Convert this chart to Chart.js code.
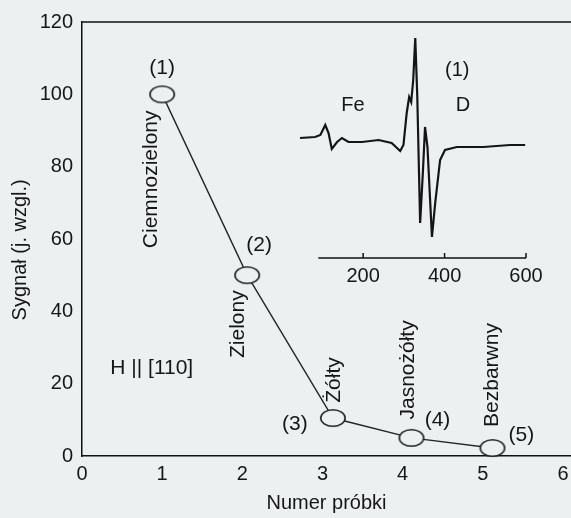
<!DOCTYPE html>
<html lang="pl">
<head>
<meta charset="UTF-8">
<title>Sygnał a numer próbki</title>
<style>
  body { margin: 0; background: #edf0f1; }
  #wrap { position: relative; width: 571px; height: 518px; }
  #mainChart { position: absolute; left: 0; top: 0; }
  #insetChart { position: absolute; left: 280px; top: 30px; }
</style>
<script src="https://cdn.jsdelivr.net/npm/chart.js"></script>
</head>
<body>
<div id="wrap">
  <canvas id="mainChart" width="571" height="518"></canvas>
  <canvas id="insetChart" width="276" height="260"></canvas>
</div>
<script>
// main plot: signal vs sample number
const sampleNumbers = [1.0, 2.06, 3.13, 4.11, 5.12];
const signalValues = [100, 50, 10.5, 5, 2.2];
const sampleLabels = ['(1)', '(2)', '(3)', '(4)', '(5)'];
const colourNames = ['Ciemnozielony', 'Zielony', 'Żółty', 'Jasnożółty', 'Bezbarwny'];
const xTicks = [0, 1, 2, 3, 4, 5, 6];
const yTicks = [0, 20, 40, 60, 80, 100, 120];

// inset: spectrum of sample (1)
const fieldValues = [45, 82, 95, 107, 115, 123, 136, 148, 164, 197, 238, 270, 291, 299,
                     307, 313, 318, 323, 328, 333, 340, 347, 352, 358, 369, 377, 389, 401,
                     430, 495, 561, 598];
const spectrumValues = [2, 3, 5, 15, 7, -9, -2, 2, -2, -2, 0, -3, -11, -5,
                        27, 43, 38, 60, 102, 43, -83, -30, 13, -7, -97, -63, -20, -10,
                        -7, -7, -5, -5];
const insetTicks = [200, 400, 600];
const insetAxisStart = 90;

// label placement relative to each point (px)
const numberOffsets = [[0, -26], [12, -30], [-38, 6], [26, -18], [29, -13]];
const nameOffsets = [[-11, 85], [-9, 49], [1, -38], [-3, -68], [0, -73]];

const ink = '#161616';
const paper = '#edf0f1';
const fontFamily = '"Liberation Sans", Arial, sans-serif';
Chart.defaults.font.family = fontFamily;
Chart.defaults.color = ink;

function ellipseMarker() {
    const c = document.createElement('canvas');
    c.width = 28;
    c.height = 20;
    const g = c.getContext('2d');
    g.beginPath();
    g.ellipse(14, 10, 12.2, 8.3, 0, 0, Math.PI * 2);
    g.fillStyle = paper;
    g.fill();
    g.lineWidth = 1.6;
    g.strokeStyle = '#222';
    g.stroke();
    return c;
}

const mainLabels = {
    id: 'mainLabels',
    afterDatasetsDraw(chart) {
        const ctx = chart.ctx;
        const area = chart.chartArea;
        const meta = chart.getDatasetMeta(0);
        ctx.save();
        ctx.font = '21px ' + fontFamily;
        ctx.fillStyle = ink;
        ctx.textAlign = 'center';
        ctx.textBaseline = 'middle';
        meta.data.forEach((pt, i) => {
            ctx.fillText(sampleLabels[i], pt.x + numberOffsets[i][0], pt.y + numberOffsets[i][1]);
            ctx.save();
            ctx.translate(pt.x + nameOffsets[i][0], pt.y + nameOffsets[i][1]);
            ctx.rotate(-Math.PI / 2);
            ctx.fillText(colourNames[i], 0, 0);
            ctx.restore();
        });
        ctx.fillText('H || [110]', chart.scales.x.getPixelForValue(0.87), chart.scales.y.getPixelForValue(24.3));

        // y axis title, sits a little below the axis centre in the original
        ctx.save();
        ctx.font = '20px ' + fontFamily;
        ctx.translate(20, chart.scales.y.getPixelForValue(57));
        ctx.rotate(-Math.PI / 2);
        ctx.fillText('Sygnał (j. wzgl.)', 0, 0);
        ctx.restore();

        // top frame line
        ctx.strokeStyle = '#111';
        ctx.lineWidth = 1.5;
        ctx.beginPath();
        ctx.moveTo(area.left, area.top);
        ctx.lineTo(area.right, area.top);
        ctx.stroke();
        ctx.restore();
    }
};

new Chart(document.getElementById('mainChart'), {
    type: 'scatter',
    data: {
        datasets: [{
            data: sampleNumbers.map((x, i) => ({ x: x, y: signalValues[i] })),
            showLine: true,
            borderColor: '#262626',
            borderWidth: 1.4,
            pointStyle: ellipseMarker(),
            pointRadius: 10,
            clip: false
        }]
    },
    options: {
        responsive: false,
        animation: false,
        events: [],
        plugins: { legend: { display: false }, tooltip: { enabled: false } },
        layout: { autoPadding: false, padding: { top: 22, right: 0, bottom: 0, left: 0 } },
        scales: {
            x: {
                type: 'linear',
                min: 0,
                max: 6.1,
                afterBuildTicks: s => { s.ticks = xTicks.map(v => ({ value: v })); },
                afterFit: s => {
                    s.height = 62;
                    s.paddingLeft = 0;
                    s.paddingRight = 0;
                },
                grid: { display: false, drawTicks: false },
                border: { color: '#111', width: 1.5 },
                ticks: { padding: 2, font: { size: 20, lineHeight: 1.6 } },
                title: { display: true, text: 'Numer próbki', font: { size: 20 }, padding: { top: 0, bottom: 3 } }
            },
            y: {
                min: 0,
                max: 120,
                afterBuildTicks: s => { s.ticks = yTicks.map(v => ({ value: v })); },
                afterFit: s => { s.width = 82; },
                grid: { display: false, drawTicks: false },
                border: { color: '#111', width: 1.5 },
                ticks: { padding: 9, font: { size: 20 } }
            }
        }
    },
    plugins: [mainLabels]
});

const insetLabels = {
    id: 'insetLabels',
    afterDatasetsDraw(chart) {
        const ctx = chart.ctx;
        const xs = chart.scales.x, ys = chart.scales.y;
        const bottom = chart.chartArea.bottom;
        ctx.save();
        ctx.font = '20px ' + fontFamily;
        ctx.fillStyle = ink;
        ctx.textAlign = 'center';
        ctx.textBaseline = 'middle';
        ctx.fillText('Fe', xs.getPixelForValue(175), ys.getPixelForValue(35));
        ctx.fillText('D', xs.getPixelForValue(445), ys.getPixelForValue(35));
        ctx.fillText('(1)', xs.getPixelForValue(431), ys.getPixelForValue(70));
        // axis line only over the measured field range, with small inward ticks
        ctx.strokeStyle = '#111';
        ctx.lineWidth = 1.5;
        ctx.beginPath();
        ctx.moveTo(xs.getPixelForValue(insetAxisStart), bottom);
        ctx.lineTo(xs.getPixelForValue(insetTicks[insetTicks.length - 1]), bottom);
        ctx.stroke();
        insetTicks.forEach(v => {
            const px = xs.getPixelForValue(v);
            ctx.beginPath();
            ctx.moveTo(px, bottom);
            ctx.lineTo(px, bottom - 5);
            ctx.stroke();
        });
        ctx.restore();
    }
};

new Chart(document.getElementById('insetChart'), {
    type: 'scatter',
    data: {
        datasets: [{
            data: fieldValues.map((x, i) => ({ x: x, y: spectrumValues[i] })),
            showLine: true,
            borderColor: '#151515',
            borderWidth: 2.2,
            pointRadius: 0,
            clip: false
        }]
    },
    options: {
        responsive: false,
        animation: false,
        events: [],
        plugins: { legend: { display: false }, tooltip: { enabled: false } },
        layout: { autoPadding: false, padding: { top: 0, right: 30, bottom: 0, left: 18 } },
        scales: {
            x: {
                type: 'linear',
                min: 40,
                max: 600,
                afterBuildTicks: s => { s.ticks = insetTicks.map(v => ({ value: v })); },
                afterFit: s => { s.height = 32; },
                grid: { display: false, drawTicks: false },
                border: { display: false },
                ticks: { padding: 6, font: { size: 20 } }
            },
            y: { display: false, min: -118, max: 110 }
        }
    },
    plugins: [insetLabels]
});
</script>
</body>
</html>
